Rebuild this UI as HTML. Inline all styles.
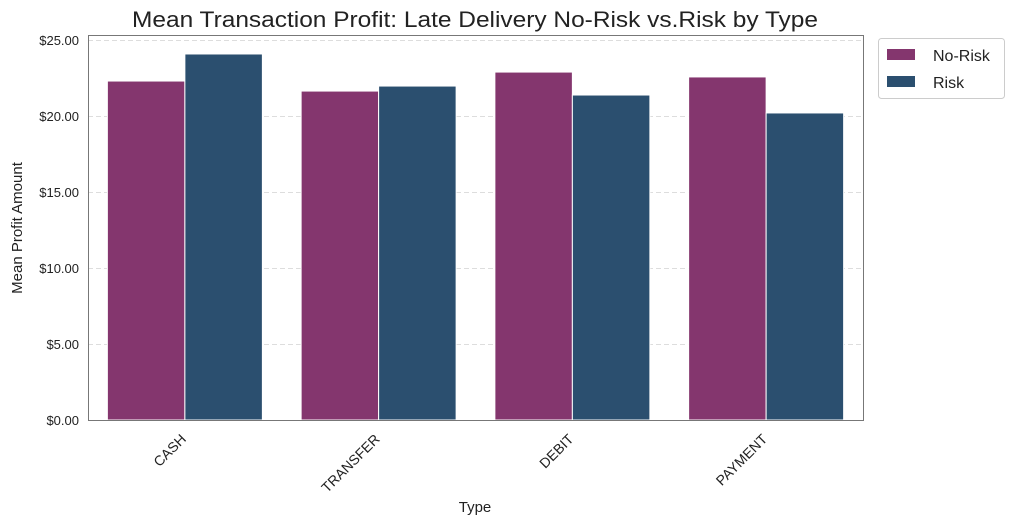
<!DOCTYPE html>
<html><head><meta charset="utf-8"><style>
body{margin:0;background:#fff;}
svg text{font-family:"Liberation Sans",sans-serif;}
</style></head><body>
<svg width="1014" height="525" xmlns="http://www.w3.org/2000/svg">
<text x="475" y="27" font-size="22" text-anchor="middle" fill="#222" textLength="686" lengthAdjust="spacingAndGlyphs">Mean Transaction Profit: Late Delivery No-Risk vs.Risk by Type</text>
<g id="grid"></g>
<g id="bars"></g>
<rect x="88.5" y="35.5" width="775" height="385" fill="none" stroke="#777" stroke-width="1"/>
<g id="yticks"></g>
<g id="xticks"></g>
<text x="22" y="228" font-size="15" text-anchor="middle" transform="rotate(-90 22 228)" fill="#222">Mean Profit Amount</text>
<text x="475" y="512" font-size="15" text-anchor="middle" fill="#222">Type</text>
<g>
<rect x="878.5" y="38.5" width="126" height="60" rx="3" fill="#fff" stroke="#ccc"/>
<rect x="887" y="49" width="28" height="11" fill="#84366e"/>
<text x="933" y="61" font-size="16" fill="#222">No-Risk</text>
<rect x="887" y="76" width="28" height="11" fill="#2b4f6f"/>
<text x="933" y="88" font-size="16" fill="#222">Risk</text>
</g>
</svg>
<script>
const categories=["CASH","TRANSFER","DEBIT","PAYMENT"];
const noRisk=[22.30,21.64,22.89,22.57];
const risk=[24.08,21.97,21.38,20.20];
const yTicks=[0,5,10,15,20,25];
const yTickLabels=["$0.00","$5.00","$10.00","$15.00","$20.00","$25.00"];
const NS="http://www.w3.org/2000/svg";
const X0=88,W=775,Y0=420,PX=15.2;
const y=v=>Y0-v*PX;
const band=W/categories.length;
function mk(t,a,p){const e=document.createElementNS(NS,t);for(const k in a)e.setAttribute(k,a[k]);p.appendChild(e);return e;}
const g=document.getElementById('grid'),b=document.getElementById('bars'),yt=document.getElementById('yticks'),xt=document.getElementById('xticks');
yTicks.forEach((v,i)=>{
 const l=mk('line',{x1:X0,x2:X0+W,y1:y(v)+0.5,y2:y(v)+0.5,stroke:'#ddd','stroke-dasharray':'5,3'},g);
 
 
 const t=mk('text',{x:X0-9,y:y(v)+5,'font-size':13,'text-anchor':'end',fill:'#222'},yt);
 t.textContent=yTickLabels[i];
 
 
});
categories.forEach((c,i)=>{
 const cx=X0+band*(i+0.5),bw=band*0.4;
 const r1=mk('rect',{x:cx-bw,y:y(noRisk[i]),width:bw,height:noRisk[i]*PX,fill:'#84366e',stroke:'#fff','stroke-width':1},b);
 
 
 const r2=mk('rect',{x:cx,y:y(risk[i]),width:bw,height:risk[i]*PX,fill:'#2b4f6f',stroke:'#fff','stroke-width':1},b);
 
 
 const t=mk('text',{x:cx+2,y:440,'font-size':14,'text-anchor':'end',fill:'#222',transform:`rotate(-45 ${cx+2} 440)`},xt);
 t.textContent=c;
 
 
});
</script>
</body></html>
